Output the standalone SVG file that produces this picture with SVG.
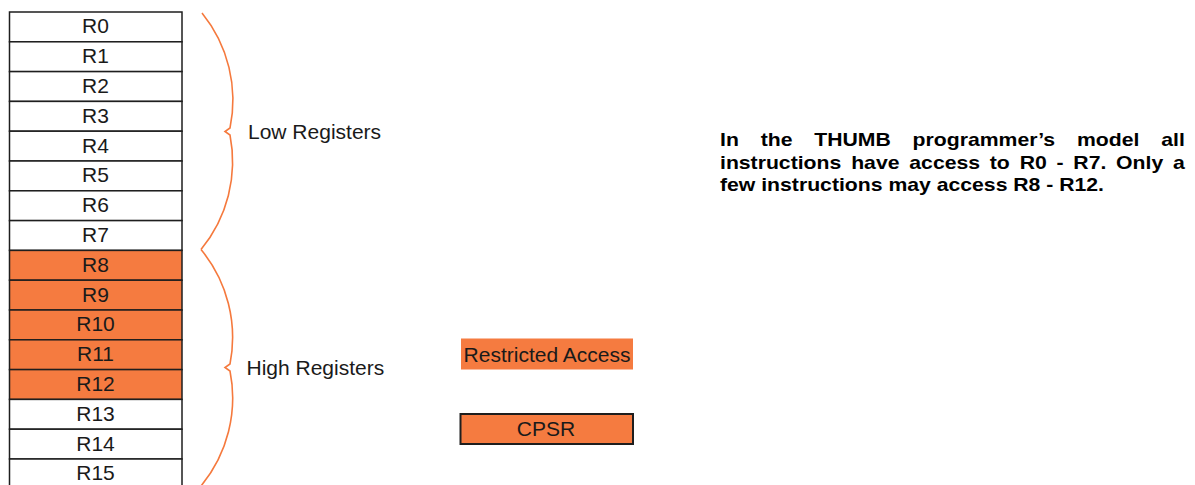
<svg xmlns="http://www.w3.org/2000/svg" width="1195" height="485" viewBox="0 0 1195 485">
  <style>
    .cell { fill: #ffffff; stroke: #1e1e1e; stroke-width: 1.5; }
    .hot { fill: #f57b40; stroke: #1e1e1e; stroke-width: 1.5; }
    .rl { font-family: "Liberation Sans", Arial, sans-serif; font-size: 20px; fill: #1a1a1a; text-anchor: middle; }
    .lbl { font-family: "Liberation Sans", Arial, sans-serif; font-size: 21px; fill: #1a1a1a; }
    .brace { fill: none; stroke: #f5793d; stroke-width: 1.6; stroke-linejoin: miter; }
    .para { font-family: "Liberation Sans", Arial, sans-serif; font-size: 18.2px; font-weight: bold; fill: #000000; }
  </style>

  <g id="registers">
    <g id="r0"><rect class="cell" x="9.5" y="12" width="172.5" height="29.8"/></g>
    <g id="r1"><rect class="cell" x="9.5" y="41.8" width="172.5" height="29.8"/></g>
    <g id="r2"><rect class="cell" x="9.5" y="71.6" width="172.5" height="29.8"/></g>
    <g id="r3"><rect class="cell" x="9.5" y="101.4" width="172.5" height="29.8"/></g>
    <g id="r4"><rect class="cell" x="9.5" y="131.2" width="172.5" height="29.8"/></g>
    <g id="r5"><rect class="cell" x="9.5" y="161" width="172.5" height="29.8"/></g>
    <g id="r6"><rect class="cell" x="9.5" y="190.8" width="172.5" height="29.8"/></g>
    <g id="r7"><rect class="cell" x="9.5" y="220.6" width="172.5" height="29.8"/></g>
    <g id="r8"><rect class="hot" x="9.5" y="250.4" width="172.5" height="29.8"/></g>
    <g id="r9"><rect class="hot" x="9.5" y="280.2" width="172.5" height="29.8"/></g>
    <g id="r10"><rect class="hot" x="9.5" y="310" width="172.5" height="29.8"/></g>
    <g id="r11"><rect class="hot" x="9.5" y="339.8" width="172.5" height="29.8"/></g>
    <g id="r12"><rect class="hot" x="9.5" y="369.6" width="172.5" height="29.8"/></g>
    <g id="r13"><rect class="cell" x="9.5" y="399.4" width="172.5" height="29.8"/></g>
    <g id="r14"><rect class="cell" x="9.5" y="429.2" width="172.5" height="29.8"/></g>
    <g id="r15"><rect class="cell" x="9.5" y="459" width="172.5" height="29.8"/></g>
  </g>

  <g id="register-labels" transform="translate(95.5,0) scale(1.05,1)">
    <text class="rl" x="0" y="33.5">R0</text>
    <text class="rl" x="0" y="63.3">R1</text>
    <text class="rl" x="0" y="93.1">R2</text>
    <text class="rl" x="0" y="122.9">R3</text>
    <text class="rl" x="0" y="152.7">R4</text>
    <text class="rl" x="0" y="182.5">R5</text>
    <text class="rl" x="0" y="212.3">R6</text>
    <text class="rl" x="0" y="242.1">R7</text>
    <text class="rl" x="0" y="271.9">R8</text>
    <text class="rl" x="0" y="301.7">R9</text>
    <text class="rl" x="0" y="331.5">R10</text>
    <text class="rl" x="0" y="361.3">R11</text>
    <text class="rl" x="0" y="391.1">R12</text>
    <text class="rl" x="0" y="420.9">R13</text>
    <text class="rl" x="0" y="450.7">R14</text>
    <text class="rl" x="0" y="480.5">R15</text>
  </g>

  <g id="connectors">
    <path class="brace" d="M202,13 A138,138 0 0 1 230,128 L225,131.5 L230,135 A138,138 0 0 1 201,249.5"/>
    <path class="brace" d="M201,249.5 A138,138 0 0 1 230,364 L225,367.5 L230,371 A138,138 0 0 1 201,486"/>
  </g>

  <g id="low-registers"><text class="lbl" x="248" y="138.5">Low Registers</text></g>
  <g id="high-registers"><text class="lbl" x="246.5" y="375">High Registers</text></g>

  <g id="restricted-access">
    <rect x="461" y="338.5" width="172" height="31" fill="#f57b40"/>
    <text class="lbl" x="547" y="361.5" text-anchor="middle">Restricted Access</text>
  </g>

  <g id="cpsr">
    <rect x="460.5" y="414" width="172.5" height="30" fill="#f57b40" stroke="#1e1e1e" stroke-width="2"/>
    <text class="lbl" x="546" y="435.5" text-anchor="middle">CPSR</text>
  </g>

  <g id="description" transform="translate(720,0) scale(1.165,1)">
    <text class="para" y="146.5">
      <tspan x="0">In</tspan><tspan x="34.9">the</tspan><tspan x="80.9">THUMB</tspan><tspan x="165.3">programmer’s</tspan><tspan x="306.4">model</tspan><tspan x="399" text-anchor="end">all</tspan>
    </text>
    <text class="para" y="169">
      <tspan x="0">instructions</tspan><tspan x="112.6">have</tspan><tspan x="162.5">access</tspan><tspan x="231.6">to</tspan><tspan x="257.2">R0</tspan><tspan x="288.9">-</tspan><tspan x="303.3">R7.</tspan><tspan x="340">Only</tspan><tspan x="399" text-anchor="end">a</tspan>
    </text>
    <text class="para" x="0" y="191.5">few instructions may access R8 - R12.</text>
  </g>
</svg>
